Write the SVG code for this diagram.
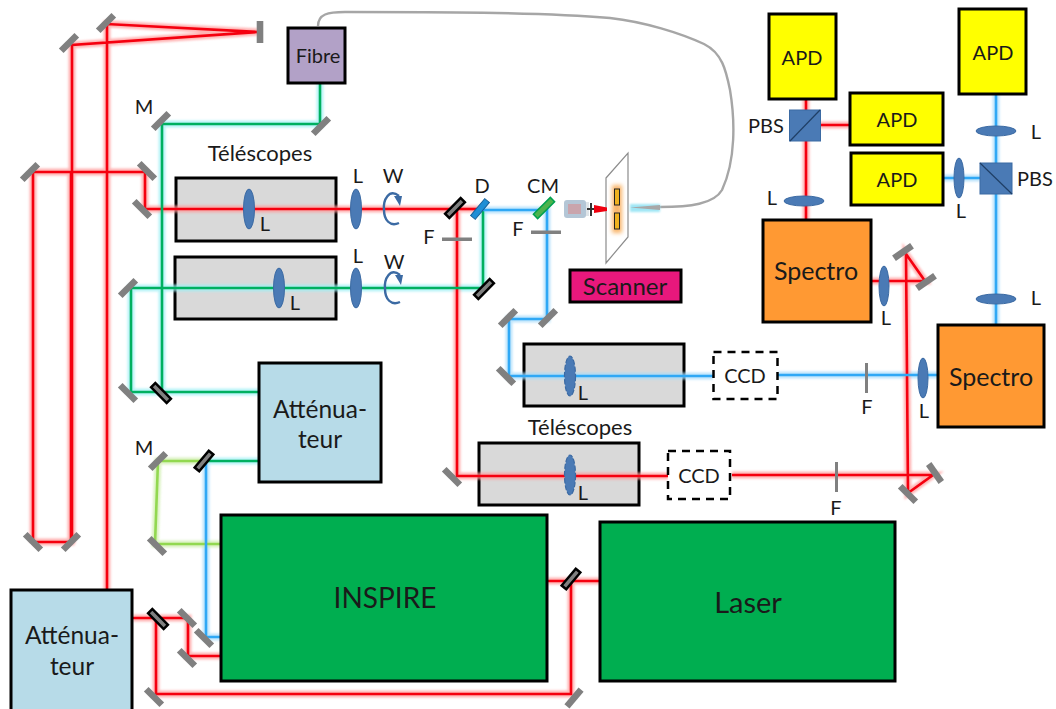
<svg xmlns="http://www.w3.org/2000/svg" width="1056" height="709" viewBox="0 0 1056 709">
<style>
text{font-family:"Lato","Open Sans","Liberation Sans",sans-serif;fill:#1a1a1a;text-anchor:middle}
.l{font-size:20px}.t{font-size:22px}.a{font-size:20px}.s{font-size:25px}.b{font-size:24.500px}.c{font-size:28px}
.box{stroke:#000;stroke-width:3}
.gb{fill:#d9d9d9}.y{fill:#ff0}.o{fill:#f93}.at{fill:#b7dbe8}.gr{fill:#00ae50}
.dash{fill:#fff;stroke:#000;stroke-width:2.5;stroke-dasharray:8 6}
.m{fill:#808080}.bm{fill:#808080;stroke:#000;stroke-width:2.5}
.lens{fill:#4a7ab5;stroke:#3b6aa3;stroke-width:1}
.dl{fill:#4a7ab5;stroke:#3b6aa3;stroke-width:1.2;stroke-dasharray:5 2}
.beam{fill:none;stroke-linejoin:miter}
.core{stroke-width:2.6}.glow{stroke-width:7;opacity:.75;filter:url(#bl)}
.w{fill:none;stroke:#3b6aa3;stroke-width:2.4}
</style>
<defs>
<filter id="bl" x="-20%" y="-20%" width="140%" height="140%"><feGaussianBlur stdDeviation="1.3"/></filter>
<filter id="bl2" x="-40%" y="-40%" width="180%" height="180%"><feGaussianBlur stdDeviation="2"/></filter>
<rect id="mir" class="m" x="-11" y="-3.300" width="22" height="6.600"/>
<rect id="blk" class="bm" x="-11" y="-3" width="22" height="6"/>
<g id="wave"><path class="w" d="M7 -13C-3 -21 -9 -9 -8 1C-8 11 -2 18 7 14"/><path fill="#3b6aa3" d="M2 -13L10 -13L8 -3Z"/></g>
<g id="redP">
<path d="M107 590V24L258 32L72 45V543"/>
<path d="M33 542V172H145V209H432L457 209V476H668"/>
<path d="M33 542H71V172"/>
<path d="M457 209H482"/>
<path d="M732 475H933L908 493L906 254L925 281H871"/>
<path d="M806 99V220M820 125H850"/>
<path d="M133 618H188V656H221M156 619V694H571V581M548 581H600"/>
</g>
<g id="greenP">
<path d="M320 83V124H162V392M259 392H131V288H483V210"/>
<path d="M259 461H204"/>
</g>
<g id="limeP"><path d="M204 461H158L155 544H221"/></g>
<g id="blueP">
<path d="M483 210H547V319H509V376H713M778 375H938"/>
<path d="M996 94V325M943 178H980"/>
<path d="M206 462V637H221"/>
</g>
</defs>
<rect width="1056" height="709" fill="#fff"/>

<g id="telescope-1"><rect class="box gb" x="176" y="178" width="160" height="63"/></g>
<g id="telescope-2"><rect class="box gb" x="175" y="257" width="161" height="62"/></g>
<g id="telescope-3"><rect class="box gb" x="524" y="344" width="160" height="62"/></g>
<g id="telescope-4"><rect class="box gb" x="479" y="443" width="160" height="62"/></g>

<g id="connectors" class="beam">
<use href="#greenP" class="glow" stroke="#9ff0f5"/>
<use href="#blueP" class="glow" stroke="#a8dcfa"/>
<use href="#limeP" class="glow" stroke="#cdeeaa"/>
<use href="#redP" class="glow" stroke="#ff9a9a"/>
<use href="#redP" class="core" stroke="#f5000f"/>
<use href="#greenP" class="core" stroke="#00b060"/>
<use href="#limeP" class="core" stroke="#92d850"/>
<use href="#blueP" class="core" stroke="#2fa8f5"/>
<path fill="none" stroke="#a6a6a6" stroke-width="2.400" d="M318 26C318 14 328 12 345 12C430 12 540 12 610 18C645 22 680 33 704 44C722 53 726 70 730 90C735 120 736 160 722 190C714 204 690 207 660 207"/>
</g>

<g id="fibre"><rect class="box" fill="#b2a1c7" x="288" y="28" width="57" height="55"/><text x="318" y="63" font-size="20">Fibre</text></g>
<g id="apd-1"><rect class="box y" x="769" y="14" width="67" height="85"/><text class="a" x="802" y="65">APD</text></g>
<g id="apd-2"><rect class="box y" x="850" y="93" width="93" height="52"/><text class="a" x="897" y="127">APD</text></g>
<g id="apd-3"><rect class="box y" x="851" y="153" width="92" height="52"/><text class="a" x="897" y="187">APD</text></g>
<g id="apd-4"><rect class="box y" x="959" y="9" width="67" height="85"/><text class="a" x="993" y="60">APD</text></g>
<g id="spectro-1"><rect class="box o" x="763" y="220" width="108" height="102"/><text class="s" x="816" y="280">Spectro</text></g>
<g id="spectro-2"><rect class="box o" x="938" y="325" width="106" height="102"/><text class="s" x="991" y="386">Spectro</text></g>
<g id="attenuateur-1"><rect class="box at" x="259" y="363" width="122" height="119"/><text class="b" x="320" y="418">Atténua-</text><text class="b" x="320" y="448">teur</text></g>
<g id="attenuateur-2"><rect class="box at" x="11" y="590" width="121" height="125"/><text class="b" x="72" y="644">Atténua-</text><text class="b" x="72" y="675">teur</text></g>
<g id="inspire"><rect class="box gr" x="221" y="515" width="326" height="166"/><text class="c" x="385" y="608">INSPIRE</text></g>
<g id="laser"><rect class="box gr" x="600" y="522" width="295" height="159"/><text x="748" y="613" style="font-size:29px">Laser</text></g>
<g id="scanner"><rect class="box" fill="#e8187c" x="570" y="270" width="111" height="32"/><text x="625" y="295" style="font-size:24px">Scanner</text></g>
<g id="ccd-1"><rect class="dash" x="713.500" y="352" width="64" height="47"/><text class="a" x="745" y="383">CCD</text></g>
<g id="ccd-2"><rect class="dash" x="668" y="451" width="62" height="48"/><text class="a" x="699" y="483">CCD</text></g>

<g id="sample">
<polygon points="606,178 628,153 628,237 606,263" fill="#fff" stroke="#8c8c8c" stroke-width="1.200"/>
<rect x="612" y="185" width="10" height="48" fill="#f9b56b" filter="url(#bl2)"/>
<rect x="614.500" y="189" width="5" height="16" fill="#f0b21f" stroke="#222" stroke-width="1"/>
<rect x="614.500" y="213" width="5" height="16" fill="#f0b21f" stroke="#222" stroke-width="1"/>
<rect x="630" y="204" width="30" height="8" fill="#9fe6f5" filter="url(#bl)"/>
<path d="M630 207.500L660 205V210Z" fill="#a8a8a8"/>
<rect x="564" y="200" width="22" height="18" rx="3" fill="#b4c6d6"/>
<rect x="568" y="204" width="13" height="10" fill="#c9a4ac"/>
<rect x="586" y="202" width="3" height="14" fill="#dfe4e8"/>
<rect x="590" y="203" width="2" height="13" fill="#333"/>
<rect x="587" y="208" width="7" height="2" fill="#333"/>
<polygon points="594,205 607,207.500 607,211 594,213" fill="#f0000f"/>
</g>

<g id="mirrors">
<use href="#mir" transform="translate(106 23) rotate(-45)"/>
<use href="#mir" transform="translate(69 43) rotate(-45)"/>
<use href="#mir" transform="translate(260 32) rotate(90)"/>
<use href="#mir" transform="translate(30 172) rotate(-45)"/>
<use href="#mir" transform="translate(147 171) rotate(45)"/>
<use href="#mir" transform="translate(142 209) rotate(45)"/>
<use href="#mir" transform="translate(161 121) rotate(-45)"/>
<use href="#mir" transform="translate(321 126) rotate(-45)"/>
<use href="#mir" transform="translate(128 288) rotate(-45)"/>
<use href="#mir" transform="translate(128 393) rotate(45)"/>
<use href="#mir" transform="translate(158 461) rotate(-45)"/>
<use href="#mir" transform="translate(157 546) rotate(45)"/>
<use href="#mir" transform="translate(33 542) rotate(45)"/>
<use href="#mir" transform="translate(71 542) rotate(-45)"/>
<use href="#mir" transform="translate(187 618) rotate(45)"/>
<use href="#mir" transform="translate(204 638) rotate(45)"/>
<use href="#mir" transform="translate(187 658) rotate(45)"/>
<use href="#mir" transform="translate(154 697) rotate(45)"/>
<use href="#mir" transform="translate(574 698) rotate(-50)"/>
<use href="#mir" transform="translate(548 318) rotate(-45)"/>
<use href="#mir" transform="translate(508 318) rotate(-45)"/>
<use href="#mir" transform="translate(506 376) rotate(45)"/>
<use href="#mir" transform="translate(452 477) rotate(45)"/>
<use href="#mir" transform="translate(935 473) rotate(55)"/>
<use href="#mir" transform="translate(908 494) rotate(45)"/>
<use href="#mir" transform="translate(903 252) rotate(-35)"/>
<use href="#mir" transform="translate(926 282) rotate(-35)"/>
<use href="#blk" transform="translate(161 393) rotate(45)"/>
<use href="#blk" transform="translate(204 461) rotate(-50)"/>
<use href="#blk" transform="translate(158 619) rotate(45)"/>
<use href="#blk" transform="translate(571 579) rotate(-50)"/>
<use href="#blk" transform="translate(455 208) rotate(-45)"/>
<use href="#blk" transform="translate(484 289) rotate(-45)"/>
<rect x="-11" y="-3" width="22" height="6" fill="#1f8fd6" stroke="#14609a" stroke-width="1" transform="translate(480 209) rotate(-50)"/>
<rect x="-12" y="-3" width="24" height="6" fill="#4db34d" stroke="#00a050" stroke-width="1.500" transform="translate(544 208) rotate(-45)"/>
<rect x="442" y="237.500" width="30" height="3.500" fill="#808080"/>
<rect x="531" y="230.500" width="30" height="3.500" fill="#808080"/>
<rect x="865" y="363" width="3" height="30" fill="#808080"/>
<rect x="835" y="462" width="3" height="30" fill="#808080"/>
</g>

<g id="lenses">
<ellipse class="lens" cx="249" cy="209" rx="5.500" ry="20"/>
<ellipse class="lens" cx="279" cy="288" rx="5.500" ry="20"/>
<ellipse class="lens" cx="356" cy="209" rx="5.500" ry="20"/>
<ellipse class="lens" cx="356" cy="288" rx="5.500" ry="20"/>
<ellipse class="dl" cx="570" cy="376" rx="5.500" ry="20"/>
<ellipse class="dl" cx="570" cy="475" rx="5.500" ry="20"/>
<ellipse class="lens" cx="804" cy="201" rx="20" ry="5"/>
<ellipse class="lens" cx="996" cy="131" rx="20" ry="5"/>
<ellipse class="lens" cx="959" cy="178" rx="5" ry="20"/>
<ellipse class="lens" cx="996" cy="299" rx="20" ry="5"/>
<ellipse class="lens" cx="884" cy="286" rx="5" ry="20"/>
<ellipse class="lens" cx="923" cy="378" rx="5" ry="20"/>
<use href="#wave" transform="translate(392 209)"/>
<use href="#wave" transform="translate(393 288)"/>
</g>

<g id="pbs-1"><rect x="789.500" y="110" width="31" height="31" fill="#4a7ab5" stroke="#3b6aa3"/><path d="M790 141L820 110" stroke="#1f3f66" stroke-width="1.200"/></g>
<g id="pbs-2"><rect x="980" y="163" width="32" height="31" fill="#4a7ab5" stroke="#3b6aa3"/><path d="M980 163L1012 194" stroke="#1f3f66" stroke-width="1.200"/></g>

<g id="labels">
<text class="t" x="260" y="161">Téléscopes</text>
<text class="t" x="580" y="435">Téléscopes</text>
<text class="l" x="144" y="114">M</text>
<text class="l" x="144" y="455">M</text>
<text class="l" x="265" y="231">L</text>
<text class="l" x="295" y="310">L</text>
<text class="l" x="358" y="183">L</text>
<text class="l" x="358" y="263">L</text>
<text class="l" x="393" y="183">W</text>
<text class="l" x="394" y="269">W</text>
<text class="l" x="429" y="244">F</text>
<text class="l" x="518" y="236">F</text>
<text class="l" x="482" y="193">D</text>
<text class="l" x="543" y="193">CM</text>
<text class="l" x="583" y="400">L</text>
<text class="l" x="583" y="500">L</text>
<text class="l" x="867" y="414">F</text>
<text class="l" x="836" y="515">F</text>
<text class="l" x="766" y="133">PBS</text>
<text class="l" x="772" y="205">L</text>
<text class="l" x="1036" y="139">L</text>
<text class="l" x="961" y="218">L</text>
<text class="l" x="1035" y="186">PBS</text>
<text class="l" x="1036" y="305">L</text>
<text class="l" x="886" y="325">L</text>
<text class="l" x="924" y="418">L</text>
</g>
</svg>
